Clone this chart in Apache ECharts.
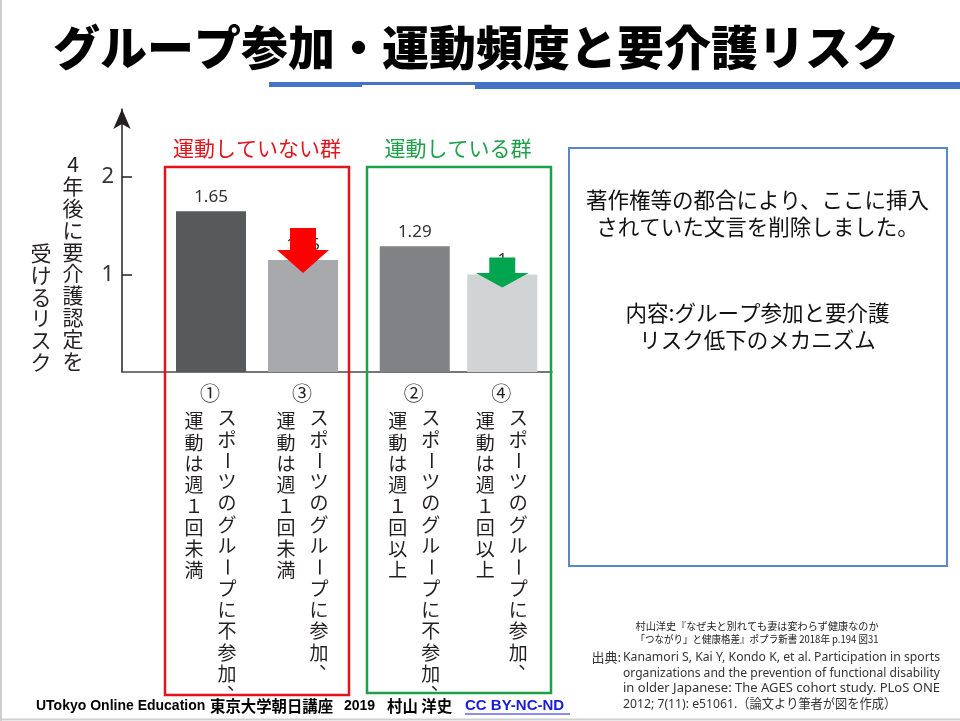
<!DOCTYPE html>
<html><head><meta charset="utf-8">
<script src="https://cdn.jsdelivr.net/npm/echarts@6/dist/echarts.min.js"></script>
<style>html,body{margin:0;padding:0;background:#fff}#c{width:960px;height:721px}</style>
</head><body><div id="c"></div>
<script>
// ---------- data ----------
const titleText = 'グループ参加・運動頻度と要介護リスク';
const yAxisNameCols = ['4年後に要介護認定を', '受けるリスク'];
const yTickValues = [1, 2];
const yMax = 2.7;
const groupNames = ['運動していない群', '運動している群'];
const groupACats = ['①', '③'];
const groupAValues = [1.65, 1.15];
const groupBCats = ['②', '④'];
const groupBValues = [1.29, 1];
const catLabelCols = {
  '①': ['スポーツのグループに不参加、', '運動は週１回未満'],
  '③': ['スポーツのグループに参加、', '運動は週１回未満'],
  '②': ['スポーツのグループに不参加、', '運動は週１回以上'],
  '④': ['スポーツのグループに参加、', '運動は週１回以上']
};
const boxLines = ['著作権等の都合により、ここに挿入', 'されていた文言を削除しました。', '内容:グループ参加と要介護', 'リスク低下のメカニズム'];
const bookLines = ['村山洋史『なぜ夫と別れても妻は変わらず健康なのか', '「つながり」と健康格差』ポプラ新書 2018年 p.194 図31'];
const sourceLabel = '出典:';
const sourceLines = [
  'Kanamori S, Kai Y, Kondo K, et al. Participation in sports',
  'organizations and the prevention of functional disability',
  'in older Japanese: The AGES cohort study. PLoS ONE',
  '2012; 7(11): e51061.（論文より筆者が図を作成）'
];
const footerParts = ['UTokyo Online Education', '東京大学朝日講座', '2019', '村山 洋史', 'CC BY-NC-ND'];

// ---------- style ----------
const CJK = '"Noto Sans CJK JP", "Noto Sans", sans-serif';
const LAT = '"Noto Sans", "Noto Sans CJK JP", sans-serif';
const ARIAL = '"Liberation Sans", "Noto Sans CJK JP", sans-serif';
const colorsA = ['#58595b', '#a7a9ac'];
const colorsB = ['#808285', '#d1d3d4'];
const RED = '#e0141c', GREEN = '#1e9f49';

const chart = echarts.init(document.getElementById('c'));
const barLabel = {
  show: true, position: 'top', distance: 6, fontSize: 17, color: '#333', fontFamily: LAT,
  formatter: p => String(p.value)
};
chart.setOption({
  backgroundColor: '#fff',
  animation: false,
  grid: [
    { left: 122, top: 109, width: 430, height: 263 },
    { left: 165, top: 109, width: 184, height: 263 },
    { left: 371, top: 109, width: 175, height: 263 }
  ],
  xAxis: [
    { gridIndex: 0, type: 'value', min: 0, max: 1,
      axisLine: { show: true, lineStyle: { color: '#4a4a4a', width: 1.6 } },
      axisTick: { show: false }, axisLabel: { show: false }, splitLine: { show: false } },
    { gridIndex: 1, type: 'category', data: groupACats, show: false },
    { gridIndex: 2, type: 'category', data: groupBCats, show: false }
  ],
  yAxis: [
    { gridIndex: 0, type: 'value', min: 0, max: yMax,
      axisLine: { show: true, symbol: ['none', 'arrow'], symbolSize: [13, 20], lineStyle: { color: '#231f20', width: 1.5 } },
      axisTick: { show: true, inside: true, length: 10, customValues: yTickValues, lineStyle: { color: '#231f20', width: 1.5 } },
      axisLabel: { customValues: yTickValues, fontSize: 22, color: '#333', margin: 8, fontFamily: LAT },
      splitLine: { show: false } },
    { gridIndex: 1, type: 'value', min: 0, max: yMax, show: false, splitLine: { show: false } },
    { gridIndex: 2, type: 'value', min: 0, max: yMax, show: false, splitLine: { show: false } }
  ],
  series: [
    { type: 'bar', xAxisIndex: 1, yAxisIndex: 1, barWidth: 70, z: 2, label: barLabel,
      data: groupAValues.map((v, i) => ({ value: v, itemStyle: { color: colorsA[i] } })) },
    { type: 'bar', xAxisIndex: 2, yAxisIndex: 2, barWidth: 70, z: 2, label: barLabel,
      data: groupBValues.map((v, i) => ({ value: v, itemStyle: { color: colorsB[i] } })) }
  ]
});

// ---------- annotations ----------
const g = [];
function txt(t, x, y, fs, fill, opt) {
  const o = Object.assign({ align: 'center', verticalAlign: 'middle', fontFamily: CJK, weight: 'normal', z: 100 }, opt || {});
  const el = { type: 'text', x: x, y: y, z: o.z, silent: true,
    style: { text: t, fontSize: fs, fontFamily: o.fontFamily, fontWeight: o.weight, fill: fill, align: o.align, verticalAlign: o.verticalAlign } };
  if (o.scaleX) el.scaleX = o.scaleX;
  g.push(el);
  return el;
}
function vcol(str, cx, cy0, pitch, fs, fill) {
  Array.from(str).forEach((ch, i) => {
    const el = txt(ch, cx, cy0 + i * pitch, fs, fill);
    if (ch === 'ー') el.rotation = -Math.PI / 2;
    if (ch === '、' || ch === '。') { el.x = cx + fs * 0.5; el.y = cy0 + (i - 1) * pitch + fs * 0.5; }
  });
}
const measureCtx = document.createElement('canvas').getContext('2d');
function measure(t, fs, fam, weight) {
  measureCtx.font = (weight || 'normal') + ' ' + fs + 'px ' + fam;
  return measureCtx.measureText(t).width;
}

// title
txt(titleText, 476, 47, 47, '#000', { weight: 900 });
g.push({ type: 'rect', shape: { x: 269, y: 82, width: 93, height: 5 }, style: { fill: '#4472c4' }, silent: true });
g.push({ type: 'rect', shape: { x: 362, y: 82, width: 113, height: 3 }, style: { fill: '#4472c4' }, silent: true });
g.push({ type: 'rect', shape: { x: 475, y: 82, width: 485, height: 7 }, style: { fill: '#4472c4' }, silent: true });
// slide border
g.push({ type: 'line', shape: { x1: 1, y1: 0, x2: 1, y2: 721 }, style: { stroke: '#cfcfcf', lineWidth: 2 }, silent: true });
g.push({ type: 'line', shape: { x1: 0, y1: 719.5, x2: 960, y2: 719.5 }, style: { stroke: '#cfcfcf', lineWidth: 2 }, silent: true });

// y-axis name (vertical, two columns)
vcol(yAxisNameCols[0], 73, 164.5, 21.8, 21, '#231f20');
vcol(yAxisNameCols[1], 41, 253, 21.8, 21, '#231f20');

// group boxes and titles
g.push({ type: 'rect', shape: { x: 165, y: 167, width: 184, height: 528 }, style: { fill: 'none', stroke: RED, lineWidth: 2.5 }, silent: true, z: 50 });
g.push({ type: 'rect', shape: { x: 367, y: 167, width: 184, height: 526 }, style: { fill: 'none', stroke: GREEN, lineWidth: 2.5 }, silent: true, z: 50 });
txt(groupNames[0], 257, 148, 21, RED);
txt(groupNames[1], 458, 148, 21, GREEN);

// category labels
function catLabels(cats, axisIdx) {
  cats.forEach(c => {
    const p = chart.convertToPixel({ xAxisIndex: axisIdx, yAxisIndex: axisIdx }, [c, 0]);
    const cx = p[0];
    txt(c, cx - 1, 393, 20, '#231f20');
    vcol(catLabelCols[c][0], cx + 16, 418, 21.3, 19, '#231f20');
    vcol(catLabelCols[c][1], cx - 17, 421, 21.3, 19, '#231f20');
  });
}
catLabels(groupACats, 1);
catLabels(groupBCats, 2);

// arrows over the second bar of each group
function arrow(cat, val, axisIdx, top, neck, tip, sw, hw, color) {
  const p = chart.convertToPixel({ xAxisIndex: axisIdx, yAxisIndex: axisIdx }, [cat, val]);
  const x = p[0], y = p[1];
  g.push({ type: 'polygon', z: 120, silent: true,
    shape: { points: [[x - sw, y + top], [x + sw, y + top], [x + sw, y + neck], [x + hw, y + neck], [x, y + tip], [x - hw, y + neck], [x - sw, y + neck]] },
    style: { fill: color } });
}
arrow(groupACats[1], groupAValues[1], 1, -32, -10, 13, 13, 26, '#ff0000');
arrow(groupBCats[1], groupBValues[1], 2, -17, -1.5, 13, 13, 26.5, '#00a54f');

// right box
g.push({ type: 'rect', shape: { x: 569, y: 148, width: 378, height: 418 }, style: { fill: 'none', stroke: '#5b87c6', lineWidth: 2 }, silent: true });
[200, 227, 313, 340].forEach((y, i) => txt(boxLines[i], 757.5, y, 21.5, '#111'));

// book citation
[626, 639].forEach((y, i) => {
  const w = measure(bookLines[i], 10.5, CJK);
  txt(bookLines[i], 757, y, 10.5, '#222', { scaleX: 243 / w });
});
txt(sourceLabel, 621, 657, 13, '#333', { align: 'right' });
const srcY = [657, 673, 688.5, 704];
let baseScale = 1;
sourceLines.forEach((t, i) => {
  const w = measure(t, 13, LAT);
  let s = 317 / w;
  if (i === 0) baseScale = s;
  if (i === sourceLines.length - 1) s = baseScale;
  txt(t, 623, srcY[i], 13, '#333', { align: 'left', fontFamily: LAT, scaleX: s });
});

// footer
txt(footerParts[0], 36, 706, 14, '#000', { align: 'left', weight: 'bold', fontFamily: ARIAL });
txt(footerParts[1], 210, 706, 15.4, '#000', { align: 'left', weight: 'bold' });
txt(footerParts[2], 344, 706, 14, '#000', { align: 'left', weight: 'bold', fontFamily: ARIAL });
txt(footerParts[3], 387, 706, 15.4, '#000', { align: 'left', weight: 'bold' });
txt(footerParts[4], 465, 706, 15, '#1a1adb', { align: 'left', weight: 'bold', fontFamily: ARIAL });
g.push({ type: 'line', shape: { x1: 465, y1: 714, x2: 570, y2: 714 }, style: { stroke: '#1a1adb', lineWidth: 1.2 }, silent: true });

chart.setOption({ graphic: { elements: g } });
</script>
</body></html>
